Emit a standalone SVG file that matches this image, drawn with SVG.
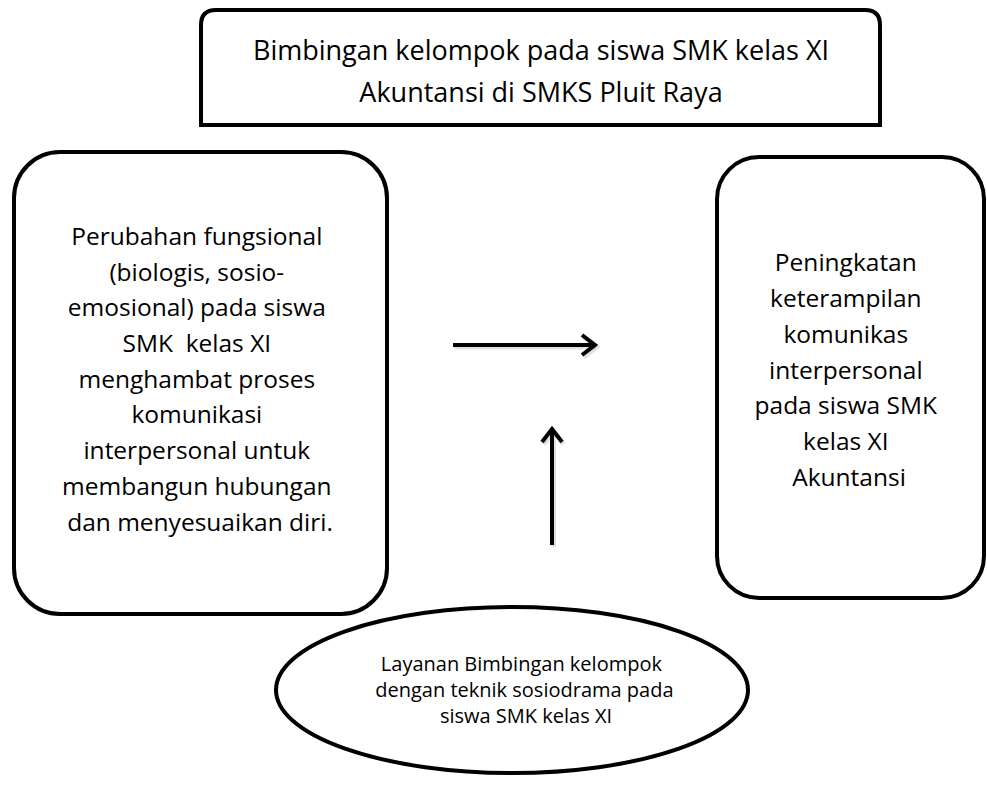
<svg xmlns="http://www.w3.org/2000/svg" width="987" height="790" viewBox="0 0 987 790">
<style>
.shape{fill:#fff;stroke:#000;stroke-width:4}
.t{font-family:"Open Sans","Liberation Sans",sans-serif;font-size:24.5px;fill:#000;text-anchor:middle}
.h{font-family:"Open Sans","Liberation Sans",sans-serif;font-size:27px;fill:#000;text-anchor:middle}
.s{font-family:"Open Sans","Liberation Sans",sans-serif;font-size:20px;fill:#000;text-anchor:middle}
.conn{fill:none;stroke:#000;stroke-width:4;stroke-linecap:butt}
.shadow{fill:none;stroke:#000;stroke-opacity:0.12;stroke-width:5}
</style>
<rect width="987" height="790" fill="#fff"/>
<g id="top">
<path class="shape" d="M201,125 L201,25 Q201,10 216,10 L865,10 Q880,10 880,25 L880,125 Z"/>
<text class="h" x="541" y="60">Bimbingan kelompok pada siswa SMK kelas XI</text>
<text class="h" x="541" y="102">Akuntansi di SMKS Pluit Raya</text>
</g>
<g id="left">
<rect class="shape" x="14" y="152" width="373" height="462" rx="46" ry="46"/>
<text class="t">
<tspan x="200" y="245">Perubahan fungsional</tspan>
<tspan x="200" y="281">(biologis, sosio-</tspan>
<tspan x="200" y="316">emosional) pada siswa</tspan>
<tspan x="200" y="352">SMK &#160;kelas XI</tspan>
<tspan x="200" y="388">menghambat proses</tspan>
<tspan x="200" y="423">komunikasi</tspan>
<tspan x="200" y="459">interpersonal untuk</tspan>
<tspan x="200" y="495">membangun hubungan</tspan>
<tspan x="200" y="531">dan menyesuaikan diri.</tspan>
</text>
</g>
<g id="right">
<rect class="shape" x="717" y="157" width="267" height="441" rx="42" ry="42"/>
<text class="t">
<tspan x="849" y="271">Peningkatan</tspan>
<tspan x="849" y="307">keterampilan</tspan>
<tspan x="849" y="343">komunikas</tspan>
<tspan x="849" y="379">interpersonal</tspan>
<tspan x="849" y="414">pada siswa SMK</tspan>
<tspan x="849" y="450">kelas XI</tspan>
<tspan x="849" y="486">Akuntansi</tspan>
</text>
</g>
<g id="bottom">
<ellipse class="shape" cx="512" cy="690" rx="236" ry="83"/>
<text class="s">
<tspan x="524" y="671">Layanan Bimbingan kelompok</tspan>
<tspan x="527" y="697">dengan teknik sosiodrama pada</tspan>
<tspan x="526" y="723">siswa SMK kelas XI</tspan>
</text>
</g>
<g id="connectors">
<g transform="translate(1.5,2)">
<line class="shadow" x1="453" y1="345" x2="594" y2="345"/>
<polyline class="shadow" points="582,335 595,345 582,355"/>
<line class="shadow" x1="552" y1="545" x2="552" y2="430"/>
<polyline class="shadow" points="542,442 552,429 562,442"/>
</g>
<line class="conn" x1="453" y1="345" x2="594" y2="345"/>
<polyline class="conn" points="582,335 595,345 582,355"/>
<line class="conn" x1="552" y1="545" x2="552" y2="430"/>
<polyline class="conn" points="542,442 552,429 562,442"/>
</g>
</svg>
